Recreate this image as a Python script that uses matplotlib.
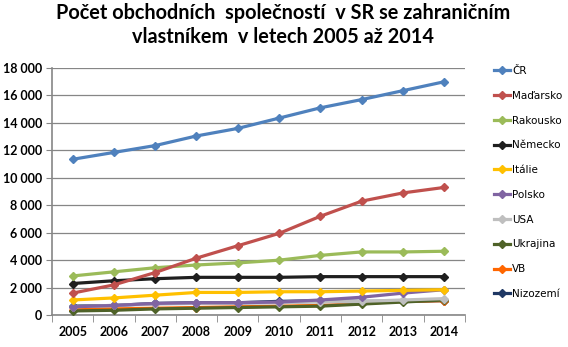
import matplotlib.pyplot as plt
import numpy as np
from matplotlib.ticker import FuncFormatter, FixedLocator

plt.rcParams["font.family"] = ['Lato', 'DejaVu Sans']

years = [2005, 2006, 2007, 2008, 2009, 2010, 2011, 2012, 2013, 2014]
names = ['ČR', 'Maďarsko', 'Rakousko', 'Německo', 'Itálie', 'Polsko', 'USA', 'Ukrajina', 'VB', 'Nizozemí']

cr = [11350, 11850, 12350, 13050, 13600, 14350, 15100, 15700, 16350, 17000]
madarsko = [1600, 2200, 3100, 4150, 5050, 5950, 7200, 8300, 8900, 9300]
rakousko = [2850, 3150, 3450, 3650, 3800, 4000, 4350, 4600, 4600, 4650]
nemecko = [2300, 2500, 2650, 2750, 2750, 2750, 2800, 2800, 2800, 2800]
italie = [1100, 1250, 1450, 1650, 1650, 1700, 1700, 1750, 1800, 1850]
polsko = [600, 700, 850, 900, 900, 950, 1100, 1300, 1600, 1850]
usa = [600, 700, 800, 850, 850, 900, 950, 1000, 1100, 1200]
ukrajina = [300, 350, 450, 500, 550, 600, 650, 800, 950, 1100]
vb = [400, 450, 500, 550, 600, 650, 700, 850, 1000, 1050]
nizozemi = [650, 700, 850, 900, 900, 1000, 1050, 1000, 1000, 1050]

colors = ['#4F81BD', '#C0504D', '#9BBB59', '#1F1F1F', '#FFC000',
          '#8064A2', '#BFBFBF', '#4F6228', '#FF6600', '#1F3864']

series = [cr, madarsko, rakousko, nemecko, italie, polsko, usa, ukrajina, vb, nizozemi]

fig = plt.figure(figsize=(5.68, 3.47), dpi=100)
ax = fig.add_axes([0.0915, 0.092, 0.727, 0.712])

x = np.arange(len(years))
# draw in reverse so the first series sits on top
for i in reversed(range(len(series))):
    ax.plot(x, series[i], color=colors[i], lw=2.3, marker='D', ms=4.5,
            label=names[i], zorder=3 + (len(series) - i) * 0.01)

ax.set_xlim(-0.5, len(years) - 0.5)
ax.set_ylim(0, 18000)
ax.set_yticks(np.arange(0, 18001, 2000))
ax.yaxis.set_major_formatter(FuncFormatter(lambda v, p: f'{int(v):,}'.replace(',', ' ')))
ax.set_xticks(x)
ax.set_xticklabels([str(y) for y in years])
ax.xaxis.set_minor_locator(FixedLocator(np.arange(-0.5, len(years), 1)))
ax.tick_params(axis='x', which='major', length=0, pad=8)
ax.tick_params(axis='x', which='minor', length=5, color='#868686', direction='out')
ax.tick_params(axis='y', length=4, color='#868686', direction='out', pad=3)
for lab in ax.get_xticklabels() + ax.get_yticklabels():
    lab.set_fontsize(9)
    lab.set_fontweight('bold')

ax.grid(axis='y', color='#868686', lw=0.9)
ax.set_axisbelow(True)
for s in ['top', 'right']:
    ax.spines[s].set_visible(False)
for s in ['left', 'bottom']:
    ax.spines[s].set_color('#868686')
    ax.spines[s].set_linewidth(1.2)

handles, labels = ax.get_legend_handles_labels()
order = [labels.index(n) for n in names]
fig.legend([handles[k] for k in order], names, loc='upper left',
           bbox_to_anchor=(0.862, 0.822), frameon=False,
           labelspacing=1.42, handlelength=1.6, handletextpad=0.15,
           markerscale=1.0, borderaxespad=0, prop={'family': 'DejaVu Sans', 'size': 7.5})

fig.text(0.498, 0.99, 'Počet obchodních  společností  v SR se zahraničním\nvlastníkem  v letech 2005 až 2014',
         ha='center', va='top', fontsize=14.3, fontweight='bold', linespacing=1.25)

fig.savefig('out.png', dpi=100)
